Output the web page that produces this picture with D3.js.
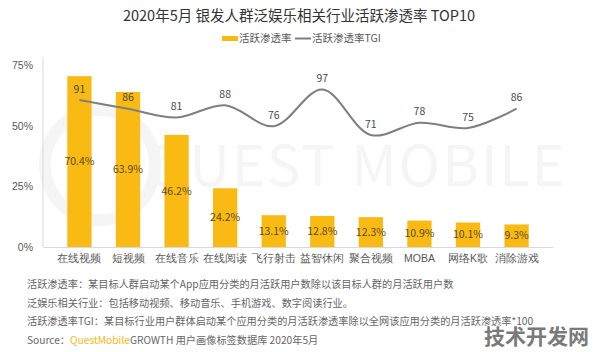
<!DOCTYPE html>
<html lang="zh">
<head>
  <meta charset="UTF-8">
  <title>2020年5月 银发人群泛娱乐相关行业活跃渗透率 TOP10</title>
  <style>
    body { margin: 0; background: #fff; }
    svg { display: block; font-family: "Noto Sans CJK SC", "Noto Sans", sans-serif; }
  </style>
</head>
<body>
  <svg id="chart" width="596" height="352"></svg>
  <script src="https://d3js.org/d3.v7.min.js"></script>
  <script>
    // data
    const categories = ["在线视频", "短视频", "在线音乐", "在线阅读", "飞行射击", "益智休闲", "聚合视频", "MOBA", "网络K歌", "消除游戏"];
    const rateValues = [70.4, 63.9, 46.2, 24.2, 13.1, 12.8, 12.3, 10.9, 10.1, 9.3];
    const tgiValues = [91, 86, 81, 88, 76, 97, 71, 78, 75, 86];
    const yTicks = [0, 25, 50, 75];

    const notes = [
      "活跃渗透率：某目标人群启动某个App应用分类的月活跃用户数除以该目标人群的月活跃用户数",
      "泛娱乐相关行业：包括移动视频、移动音乐、手机游戏、数字阅读行业。",
      "活跃渗透率TGI：某目标行业用户群体启动某个应用分类的月活跃渗透率除以全网该应用分类的月活跃渗透率*100"
    ];

    const barColor = "#F9BA14";
    const lineColor = "#7f7f7f";

    const svg = d3.select("#chart");
    const margin = { left: 43, right: 43, top: 65, bottom: 105 };
    const width = 596 - margin.left - margin.right;
    const plotH = 182;

    // faint background watermark
    svg.append("circle")
      .attr("cx", 100).attr("cy", 165).attr("r", 55)
      .attr("fill", "none").attr("stroke", "#f5f5f5").attr("stroke-width", 12);
    svg.append("text")
      .attr("x", 146).attr("y", 186)
      .attr("fill", "#f5f5f5")
      .style("font-size", "56px")
      .style("letter-spacing", "2px")
      .text("QUEST MOBILE");

    const g = svg.append("g").attr("transform", `translate(${margin.left},${margin.top})`);

    const x = d3.scaleBand().domain(categories).range([0, width]).padding(0.5);
    const y = d3.scaleLinear().domain([0, 75]).range([plotH, 0]);
    // secondary (hidden) scale for the TGI line
    const yTgi = d3.scaleLinear().domain([0, 91]).range([plotH + 12, 35]);

    // bars
    g.selectAll(".bar")
      .data(rateValues)
      .enter().append("rect")
      .attr("class", "bar")
      .attr("x", (d, i) => x(categories[i]))
      .attr("y", d => y(d))
      .attr("width", x.bandwidth())
      .attr("height", d => plotH - y(d))
      .attr("fill", barColor);

    g.selectAll(".bar-label")
      .data(rateValues)
      .enter().append("text")
      .attr("x", (d, i) => x(categories[i]) + x.bandwidth() / 2)
      .attr("y", d => (y(d) + plotH) / 2)
      .attr("dy", "0.35em")
      .attr("text-anchor", "middle")
      .attr("fill", "#5e4a1e")
      .style("font-size", "10.5px")
      .text(d => d.toFixed(1) + "%");

    // axes
    const yAxis = g.append("g")
      .call(d3.axisLeft(y).tickValues(yTicks).tickFormat(d => d + "%").tickSize(0).tickPadding(10));
    yAxis.select(".domain").attr("stroke", "#d9d9d9").attr("d", `M0,${plotH}V-8`);
    yAxis.selectAll("text").attr("fill", "#595959").style("font-size", "10.5px").style("font-family", "inherit");

    const xAxis = g.append("g")
      .attr("transform", `translate(0,${plotH})`)
      .call(d3.axisBottom(x).tickSize(0).tickPadding(8));
    xAxis.select(".domain").attr("stroke", "#d9d9d9");
    xAxis.selectAll("text").attr("fill", "#595959").style("font-size", "10.5px").style("font-family", "inherit");

    // TGI line
    const line = d3.line()
      .x((d, i) => x(categories[i]) + x.bandwidth() / 2)
      .y(d => yTgi(d))
      .curve(d3.curveCatmullRom.alpha(0.5));

    g.append("path")
      .datum(tgiValues)
      .attr("fill", "none")
      .attr("stroke", lineColor)
      .attr("stroke-width", 2)
      .attr("d", line);

    g.selectAll(".tgi-label")
      .data(tgiValues)
      .enter().append("text")
      .attr("x", (d, i) => x(categories[i]) + x.bandwidth() / 2)
      .attr("y", d => yTgi(d) - 11)
      .attr("dy", "0.35em")
      .attr("text-anchor", "middle")
      .attr("fill", "#4a4a4a")
      .style("font-size", "10.5px")
      .text(d => d);

    // title and legend
    svg.append("text")
      .attr("x", 299).attr("y", 21)
      .attr("text-anchor", "middle")
      .attr("fill", "#333")
      .style("font-size", "14.5px")
      .text("2020年5月 银发人群泛娱乐相关行业活跃渗透率 TOP10");

    const legend = svg.append("g").style("font-size", "10.5px").attr("fill", "#595959");
    legend.append("rect").attr("x", 222).attr("y", 36).attr("width", 16).attr("height", 5).attr("fill", barColor);
    legend.append("text").attr("x", 239).attr("y", 42).text("活跃渗透率");
    legend.append("line").attr("x1", 295).attr("x2", 311).attr("y1", 38.5).attr("y2", 38.5)
      .attr("stroke", lineColor).attr("stroke-width", 2);
    legend.append("text").attr("x", 312).attr("y", 42).text("活跃渗透率TGI");

    // footnotes
    const foot = svg.append("g").style("font-size", "10.2px").attr("fill", "#666");
    notes.forEach((t, i) => {
      foot.append("text").attr("x", 27).attr("y", 288 + i * 18.7).text(t);
    });
    const src = foot.append("text").attr("x", 27).attr("y", 344);
    src.append("tspan").text("Source：");
    src.append("tspan").attr("fill", "#F5B820").text("QuestMobile");
    src.append("tspan").text("GROWTH 用户画像标签数据库 2020年5月");

    // corner watermark
    svg.append("text")
      .attr("x", 589).attr("y", 344)
      .attr("text-anchor", "end")
      .attr("fill", "#7a7a7a")
      .attr("stroke", "#fff")
      .attr("stroke-width", 2)
      .attr("paint-order", "stroke")
      .style("font-size", "21px")
      .style("font-weight", "bold")
      .text("技术开发网");
  </script>
</body>
</html>
